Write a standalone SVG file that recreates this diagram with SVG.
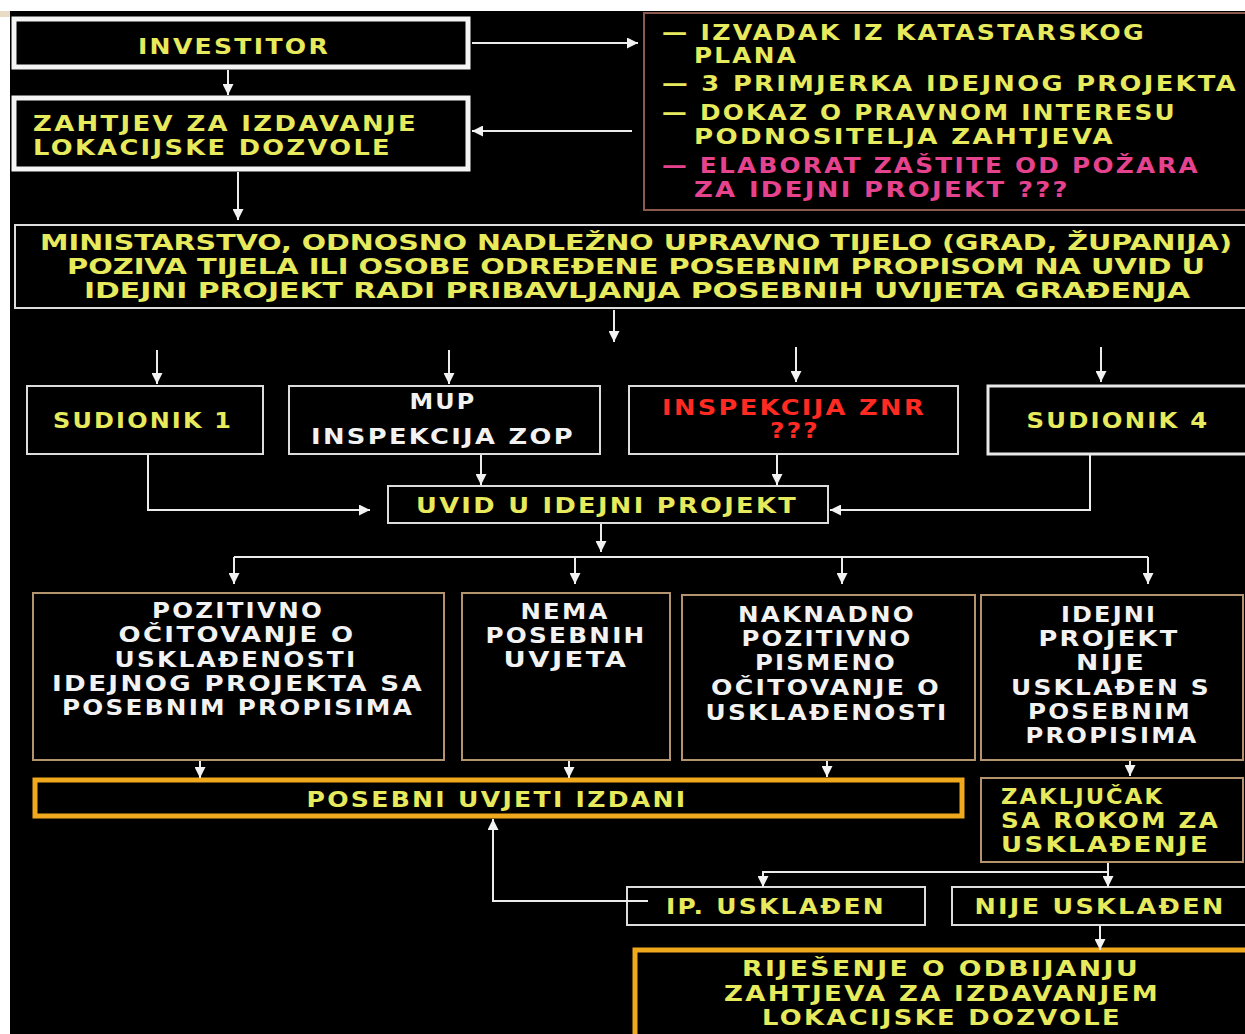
<svg xmlns="http://www.w3.org/2000/svg" width="1245" height="1034" viewBox="0 0 1245 1034">
<defs>
<marker id="ah" viewBox="0 0 10 10" markerWidth="11" markerHeight="11" markerUnits="userSpaceOnUse" refX="10" refY="5" orient="auto">
<path d="M0,0 L10,5 L0,10 z" fill="#f2f2f2"/>
</marker>
<style>
.t{font-family:"DejaVu Sans","Liberation Sans",Arial,sans-serif;font-weight:bold;font-size:22px;letter-spacing:2px;text-anchor:middle}
.l{text-anchor:start}
.n{font-family:"Liberation Sans Narrow","DejaVu Sans Condensed","Liberation Sans",sans-serif;font-weight:bold;font-size:21px;text-anchor:middle;fill:#e6ea5c}
.y{fill:#e6ea5c}
.w{fill:#f2f2f2}
.r{fill:#ff2a22}
.p{fill:#e6438f}
.bw{fill:#000;stroke:#f4f4f4;stroke-width:5}
.bt{fill:#000;stroke:#dcdcdc;stroke-width:2}
.bb{fill:#000;stroke:#b4946e;stroke-width:2}
.bo{fill:#000;stroke:#f0a81c;stroke-width:5}
.c{fill:none;stroke:#ececec;stroke-width:2;marker-end:url(#ah)}
.cn{fill:none;stroke:#ececec;stroke-width:2}
</style>
</defs>
<rect x="0" y="0" width="1245" height="1034" fill="#fff"/>
<rect x="10" y="11" width="1235" height="1023" fill="#000"/>
<rect x="0" y="11" width="10" height="6" fill="#e8dcc6"/>

<g id="investitor">
<rect class="bw" x="14" y="19" width="454" height="48"/>
<text class="t y" x="234" y="54" textLength="192" lengthAdjust="spacingAndGlyphs">INVESTITOR</text>
</g>
<g id="zahtjev">
<rect class="bw" x="14" y="98" width="454" height="71"/>
<text class="t y l" x="33" y="131" textLength="385" lengthAdjust="spacingAndGlyphs">ZAHTJEV ZA IZDAVANJE</text>
<text class="t y l" x="33" y="155" textLength="359" lengthAdjust="spacingAndGlyphs">LOKACIJSKE DOZVOLE</text>
</g>
<g id="dokumenti">
<rect x="644" y="13" width="610" height="197" fill="#000" stroke="#8a5a4e" stroke-width="2"/>
<text class="t y l" x="662" y="40" textLength="484" lengthAdjust="spacingAndGlyphs">— IZVADAK IZ KATASTARSKOG</text>
<text class="t y l" x="694" y="63" textLength="104" lengthAdjust="spacingAndGlyphs">PLANA</text>
<text class="t y l" x="662" y="91" textLength="576" lengthAdjust="spacingAndGlyphs">— 3 PRIMJERKA IDEJNOG PROJEKTA</text>
<text class="t y l" x="662" y="120" textLength="515" lengthAdjust="spacingAndGlyphs">— DOKAZ O PRAVNOM INTERESU</text>
<text class="t y l" x="694" y="144" textLength="421" lengthAdjust="spacingAndGlyphs">PODNOSITELJA ZAHTJEVA</text>
<text class="t p l" x="662" y="173" textLength="538" lengthAdjust="spacingAndGlyphs">— ELABORAT ZAŠTITE OD POŽARA</text>
<text class="t p l" x="694" y="197" textLength="376" lengthAdjust="spacingAndGlyphs">ZA IDEJNI PROJEKT ???</text>
</g>
<g id="ministarstvo">
<rect class="bt" x="15" y="225" width="1240" height="83"/>
<text class="n" x="636" y="250" textLength="1192" lengthAdjust="spacingAndGlyphs">MINISTARSTVO, ODNOSNO NADLEŽNO UPRAVNO TIJELO (GRAD, ŽUPANIJA)</text>
<text class="n" x="636" y="274" textLength="1138" lengthAdjust="spacingAndGlyphs">POZIVA TIJELA ILI OSOBE ODREĐENE POSEBNIM PROPISOM  NA  UVID U</text>
<text class="n" x="637" y="298" textLength="1106" lengthAdjust="spacingAndGlyphs">IDEJNI PROJEKT RADI PRIBAVLJANJA POSEBNIH UVIJETA GRAĐENJA</text>
</g>
<g id="sudionik1">
<rect class="bt" x="27" y="386" width="236" height="68"/>
<text class="t y" x="143" y="428" textLength="180" lengthAdjust="spacingAndGlyphs">SUDIONIK 1</text>
</g>
<g id="mup">
<rect class="bt" x="289" y="386" width="311" height="68"/>
<text class="t w" x="443" y="409" textLength="67" lengthAdjust="spacingAndGlyphs">MUP</text>
<text class="t w" x="443" y="444" textLength="264" lengthAdjust="spacingAndGlyphs">INSPEKCIJA ZOP</text>
</g>
<g id="znr">
<rect class="bt" x="629" y="386" width="329" height="68"/>
<text class="t r" x="794" y="415" textLength="264" lengthAdjust="spacingAndGlyphs">INSPEKCIJA ZNR</text>
<text class="t r" x="795" y="438" textLength="50" lengthAdjust="spacingAndGlyphs">???</text>
</g>
<g id="sudionik4">
<rect x="988" y="386" width="265" height="68" fill="#000" stroke="#e8e8e8" stroke-width="3"/>
<text class="t y" x="1118" y="428" textLength="183" lengthAdjust="spacingAndGlyphs">SUDIONIK 4</text>
</g>
<g id="uvid">
<rect class="bt" x="388" y="486" width="440" height="37"/>
<text class="t y" x="607" y="513" textLength="382" lengthAdjust="spacingAndGlyphs">UVID U IDEJNI PROJEKT</text>
</g>
<g id="pozitivno">
<rect class="bb" x="33" y="593" width="411" height="167"/>
<text class="t w" x="238" y="618" textLength="172" lengthAdjust="spacingAndGlyphs">POZITIVNO</text>
<text class="t w" x="237" y="642" textLength="237" lengthAdjust="spacingAndGlyphs">OČITOVANJE O</text>
<text class="t w" x="236" y="667" textLength="243" lengthAdjust="spacingAndGlyphs">USKLAĐENOSTI</text>
<text class="t w" x="238" y="691" textLength="372" lengthAdjust="spacingAndGlyphs">IDEJNOG PROJEKTA SA</text>
<text class="t w" x="238" y="715" textLength="352" lengthAdjust="spacingAndGlyphs">POSEBNIM PROPISIMA</text>
</g>
<g id="nema">
<rect class="bb" x="462" y="593" width="208" height="167"/>
<text class="t w" x="565" y="619" textLength="89" lengthAdjust="spacingAndGlyphs">NEMA</text>
<text class="t w" x="566" y="643" textLength="161" lengthAdjust="spacingAndGlyphs">POSEBNIH</text>
<text class="t w" x="566" y="667" textLength="125" lengthAdjust="spacingAndGlyphs">UVJETA</text>
</g>
<g id="naknadno">
<rect class="bb" x="682" y="595" width="293" height="165"/>
<text class="t w" x="827" y="622" textLength="178" lengthAdjust="spacingAndGlyphs">NAKNADNO</text>
<text class="t w" x="827" y="646" textLength="171" lengthAdjust="spacingAndGlyphs">POZITIVNO</text>
<text class="t w" x="826" y="670" textLength="142" lengthAdjust="spacingAndGlyphs">PISMENO</text>
<text class="t w" x="826" y="695" textLength="230" lengthAdjust="spacingAndGlyphs">OČITOVANJE O</text>
<text class="t w" x="827" y="720" textLength="243" lengthAdjust="spacingAndGlyphs">USKLAĐENOSTI</text>
</g>
<g id="nijeusklađen-ip">
<rect class="bb" x="981" y="595" width="262" height="165"/>
<text class="t w" x="1109" y="622" textLength="96" lengthAdjust="spacingAndGlyphs">IDEJNI</text>
<text class="t w" x="1109" y="646" textLength="141" lengthAdjust="spacingAndGlyphs">PROJEKT</text>
<text class="t w" x="1111" y="670" textLength="70" lengthAdjust="spacingAndGlyphs">NIJE</text>
<text class="t w" x="1111" y="695" textLength="200" lengthAdjust="spacingAndGlyphs">USKLAĐEN S</text>
<text class="t w" x="1110" y="719" textLength="164" lengthAdjust="spacingAndGlyphs">POSEBNIM</text>
<text class="t w" x="1112" y="743" textLength="173" lengthAdjust="spacingAndGlyphs">PROPISIMA</text>
</g>
<g id="posebni-uvjeti">
<rect class="bo" x="35" y="780" width="927" height="36"/>
<text class="t y" x="497" y="807" textLength="381" lengthAdjust="spacingAndGlyphs">POSEBNI UVJETI IZDANI</text>
</g>
<g id="zakljucak">
<rect class="bb" x="981" y="778" width="262" height="84"/>
<text class="t y l" x="1001" y="804" textLength="163" lengthAdjust="spacingAndGlyphs">ZAKLJUČAK</text>
<text class="t y l" x="1001" y="828" textLength="219" lengthAdjust="spacingAndGlyphs">SA ROKOM ZA</text>
<text class="t y l" x="1001" y="852" textLength="209" lengthAdjust="spacingAndGlyphs">USKLAĐENJE</text>
</g>
<g id="ip-usklađen">
<rect class="bt" x="627" y="887" width="298" height="38"/>
<text class="t y" x="776" y="914" textLength="220" lengthAdjust="spacingAndGlyphs">IP. USKLAĐEN</text>
</g>
<g id="nije-usklađen">
<rect class="bt" x="952" y="887" width="300" height="38"/>
<text class="t y" x="1100" y="914" textLength="251" lengthAdjust="spacingAndGlyphs">NIJE USKLAĐEN</text>
</g>
<g id="rjesenje">
<rect class="bo" x="635" y="950" width="620" height="100"/>
<text class="t y" x="941" y="976" textLength="398" lengthAdjust="spacingAndGlyphs">RIJEŠENJE O ODBIJANJU</text>
<text class="t y" x="942" y="1001" textLength="436" lengthAdjust="spacingAndGlyphs">ZAHTJEVA ZA IZDAVANJEM</text>
<text class="t y" x="942" y="1025" textLength="360" lengthAdjust="spacingAndGlyphs">LOKACIJSKE DOZVOLE</text>
</g>

<g id="connectors">
<path class="c" d="M228,70 V95"/>
<path class="c" d="M472,43 H638"/>
<path class="c" d="M632,131 H472"/>
<path class="c" d="M238,172 V220"/>
<path class="c" d="M614,310 V342"/>
<path class="c" d="M157,350 V384"/>
<path class="c" d="M449,350 V384"/>
<path class="c" d="M796,347 V382"/>
<path class="c" d="M1101,347 V382"/>
<path class="c" d="M481,455 V485"/>
<path class="c" d="M777,455 V485"/>
<path class="c" d="M148,455 V510 H370"/>
<path class="c" d="M1090,455 V510 H830"/>
<path class="c" d="M601,524 V552"/>
<path class="cn" d="M234,557 H1148"/>
<path class="c" d="M234,557 V584"/>
<path class="c" d="M575,557 V584"/>
<path class="c" d="M842,557 V584"/>
<path class="c" d="M1148,557 V584"/>
<path class="c" d="M200,761 V778"/>
<path class="c" d="M569,761 V778"/>
<path class="c" d="M827,761 V777"/>
<path class="c" d="M1130,761 V776"/>
<path class="c" d="M1108,863 V887"/>
<path class="c" d="M1108,872 H763 V887"/>
<path class="c" d="M648,901 H493 V819"/>
<path class="c" d="M1100,926 V950"/>
</g>
</svg>
